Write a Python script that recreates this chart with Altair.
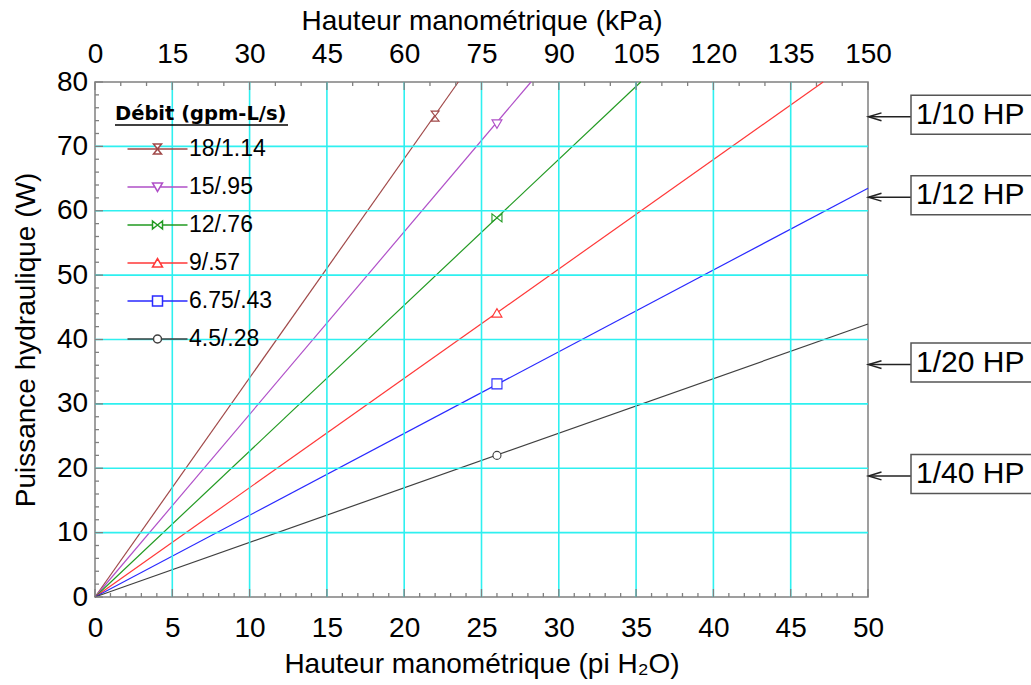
import altair as alt
import pandas as pd

# Flow series (gpm / L/s) and their colours
series = ["18/1.14", "15/.95", "12/.76", "9/.57", "6.75/.43", "4.5/.28"]
colors = ["#a04848", "#b050c8", "#229a22", "#ff3838", "#2a2aff", "#404040"]

# Each line runs from the origin to its end point (head in ft H2O, power in W)
end_head = [23.5, 28.2, 35.3, 47.1, 50.0, 50.0]
end_power = [80.0, 80.0, 80.0, 80.0, 63.5, 42.4]

# Marked point on each line
mark_head = [22.0, 26.0, 26.0, 26.0, 26.0, 26.0]
mark_power = [74.7, 73.5, 58.9, 44.1, 33.1, 22.0]

# Reference powers on the right-hand side
hp_labels = ["1/10 HP", "1/12 HP", "1/20 HP", "1/40 HP"]
hp_watts = [74.6, 62.1, 36.1, 18.8]

# Axis ticks and grid positions
ft_major = list(range(0, 51, 5))
ft_minor = [v for v in range(0, 51) if v % 5]
kpa_major = list(range(0, 151, 15))
kpa_minor = [v for v in range(0, 151, 5) if v % 15]
w_major = list(range(0, 81, 10))
w_minor = [v for v in range(0, 81, 2) if v % 10]
grid_ft = list(range(5, 50, 5))
grid_w = list(range(10, 80, 10))

# Marker outlines (unit coordinates)
marker_paths = [
    "M-0.8,-1L0.8,-1L-0.8,1L0.8,1Z",                      # hourglass
    "M-1,-0.8L1,-0.8L0,0.9Z",                             # triangle down
    "M-1,-0.8L-1,0.8L1,-0.8L1,0.8Z",                      # bowtie
    "M-1,0.8L1,0.8L0,-0.9Z",                              # triangle up
    "M-1,-1L1,-1L1,1L-1,1Z",                              # square
    "M0.8,0A0.8,0.8,0,1,1,-0.8,0A0.8,0.8,0,1,1,0.8,0Z",   # circle
]
# Legend symbols: a short line with the marker in the middle
legend_paths = [
    "M-6,0L6,0" + marker_paths[0],
    "M-6,0L-0.53,0M0.53,0L6,0" + marker_paths[1],
    "M-6,0L-1,0M1,0L6,0" + marker_paths[2],
    "M-6,0L-0.53,0M0.53,0L6,0" + marker_paths[3],
    "M-6,0L-1,0M1,0L6,0" + marker_paths[4],
    "M-6,0L-0.8,0M0.8,0L6,0" + marker_paths[5],
]

W, H = 773, 515
FONT = "Liberation Sans"
GRID = "#2ef0f0"
TICK = "#808080"

lines_rows = []
for s, xe, ye in zip(series, end_head, end_power):
    lines_rows.append({"series": s, "head": 0.0, "power": 0.0})
    lines_rows.append({"series": s, "head": xe, "power": ye})
lines_df = pd.DataFrame(lines_rows)
marks_df = pd.DataFrame({"series": series, "head": mark_head, "power": mark_power})
hp_df = pd.DataFrame({"label": hp_labels, "watts": hp_watts})

x_scale = alt.Scale(domain=[0, 50], nice=False, zero=True)
y_scale = alt.Scale(domain=[0, 80], nice=False, zero=True)
kpa_scale = alt.Scale(domain=[0, 150], nice=False, zero=True)

axis_text = dict(labelFont=FONT, titleFont=FONT, labelColor="black", titleColor="black",
                 titleFontWeight="normal", labelFontSize=28, titleFontSize=28,
                 ticks=False, domain=False, grid=False, labelFlush=False)
# One axis definition per scale, shared by every layer that uses the scale
x_axis = alt.Axis(values=ft_major, title="Hauteur manométrique (pi H₂O)",
                  labelPadding=17.5, titlePadding=8, **axis_text)
y_axis = alt.Axis(values=w_major, title="Puissance hydraulique (W)",
                  labelPadding=7.3, titlePadding=16, **axis_text)
top_axis = alt.Axis(orient="top", values=kpa_major, title="Hauteur manométrique (kPa)",
                    labelPadding=14, titlePadding=5, **axis_text)

X = lambda f: alt.X(f, scale=x_scale, axis=x_axis)
Y = lambda f: alt.Y(f, scale=y_scale, axis=y_axis)

# Grid
grid_v = alt.Chart(pd.DataFrame({"g": grid_ft})).mark_rule(color=GRID, strokeWidth=1.6).encode(
    x=X("g:Q"))
grid_h = alt.Chart(pd.DataFrame({"g": grid_w})).mark_rule(color=GRID, strokeWidth=1.6).encode(
    y=Y("g:Q"))

# Power lines and their markers, one layer per flow
line_layers = []
marker_layers = []
for s, c, p in zip(series, colors, marker_paths):
    line_layers.append(
        alt.Chart(lines_df).transform_filter(alt.datum.series == s)
        .mark_line(color=c, strokeWidth=1.2, opacity=1)
        .encode(x=X("head:Q"), y=Y("power:Q"))
    )
    marker_layers.append(
        alt.Chart(marks_df).transform_filter(alt.datum.series == s)
        .mark_point(shape=p, size=100, stroke=c, strokeWidth=1.1, opacity=1, filled=False)
        .encode(x=X("head:Q"), y=Y("power:Q"), fill=alt.value("white"))
    )

# Legend (built from the scale domains; no points are drawn by this layer)
legend_def = alt.Legend(
    title="Débit (gpm-L/s)", orient="none", legendX=20, legendY=23, padding=0,
    titleFont="DejaVu Sans", titleFontSize=19.5, titleFontWeight="bold", titleColor="black",
    titlePadding=13, titleAnchor="start",
    labelFont=FONT, labelFontSize=23, labelColor="black",
    symbolSize=100, symbolStrokeWidth=1.5, symbolOffset=31, labelOffset=20,
    rowPadding=14,
)
legend_layer = (
    alt.Chart(pd.DataFrame({"series": series}))
    .transform_filter("false")
    .mark_point(size=100, strokeWidth=1.5, opacity=1, filled=False)
    .encode(
        color=alt.Color("series:N", scale=alt.Scale(domain=series, range=colors), legend=legend_def),
        shape=alt.Shape("series:N", scale=alt.Scale(domain=series, range=legend_paths),
                        legend=legend_def),
        fill=alt.value("white"),
    )
)
title_underline = alt.Chart(pd.DataFrame({"t": ["Débit (gpm-L/s)"]})).mark_rule(
    color="black", strokeWidth=1.6).encode(
    x=alt.value(20), x2=alt.value(193), y=alt.value(43))

# Inward ticks
def ticks_x(vals, length):
    return alt.Chart(pd.DataFrame({"t": vals})).mark_rule(color=TICK, strokeWidth=1.3).encode(
        x=X("t:Q"), y=alt.value(H), y2=alt.value(H - length))

def ticks_y(vals, length):
    return alt.Chart(pd.DataFrame({"t": vals})).mark_rule(color=TICK, strokeWidth=1.3).encode(
        y=Y("t:Q"), x=alt.value(0), x2=alt.value(length))

# Horsepower reference boxes and arrows
hp_box = alt.Chart(hp_df).mark_rect(fill="white", stroke="#555555", strokeWidth=1.5,
                                    yOffset=-21.5, y2Offset=17.5).encode(
    y=Y("watts:Q"), y2="watts:Q", x=alt.value(816), x2=alt.value(940))
hp_text = alt.Chart(hp_df).mark_text(align="left", baseline="middle", fontSize=30,
                                     font=FONT, color="black", dy=-2).encode(
    y=Y("watts:Q"), x=alt.value(821), text="label:N")
hp_shaft = alt.Chart(hp_df).mark_rule(color="#222222", strokeWidth=1.5).encode(
    y=Y("watts:Q"), x=alt.value(774), x2=alt.value(816))
hp_head = alt.Chart(hp_df).mark_point(shape="M1,-0.6L-1,0L1,0.6", size=169, filled=False,
                                      strokeWidth=1.5, color="#222222", opacity=1).encode(
    y=Y("watts:Q"), x=alt.value(780))

main = alt.layer(
    *line_layers, grid_v, grid_h, *marker_layers, legend_layer, title_underline,
    ticks_x(ft_major, 8), ticks_x(ft_minor, 4), ticks_y(w_major, 8), ticks_y(w_minor, 4),
    hp_shaft, hp_head, hp_box, hp_text,
)

# Top axis in kPa
top_major = alt.Chart(pd.DataFrame({"k": kpa_major})).mark_rule(color=TICK, strokeWidth=1.3).encode(
    x=alt.X("k:Q", scale=kpa_scale, axis=top_axis), y=alt.value(0), y2=alt.value(8))
top_minor = alt.Chart(pd.DataFrame({"k": kpa_minor})).mark_rule(color=TICK, strokeWidth=1.3).encode(
    x=alt.X("k:Q", scale=kpa_scale, axis=top_axis), y=alt.value(0), y2=alt.value(4))
top = alt.layer(top_major, top_minor)

chart = (
    alt.layer(main, top)
    .resolve_scale(x="independent")
    .properties(
        width=W, height=H,
        autosize=alt.AutoSizeParams(type="none"),
        padding={"left": 95, "top": 82, "right": 163, "bottom": 88},
    )
    .configure_view(stroke=TICK, strokeWidth=1.5)
)

chart.save("out.html", embed_options={"renderer": "svg", "actions": False})
